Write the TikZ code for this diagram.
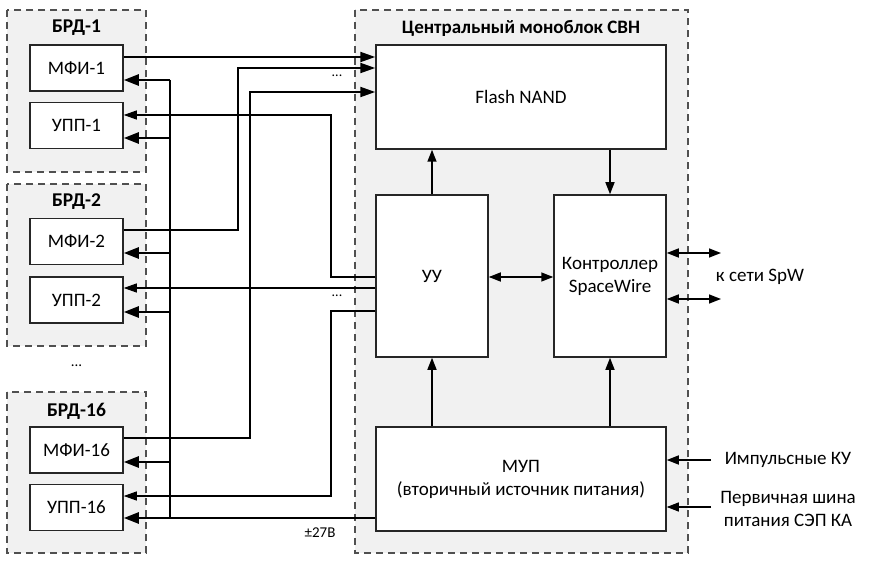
\documentclass[tikz,border=0pt]{standalone}
\usepackage{fontspec}
\setmainfont{Carlito}
\usetikzlibrary{arrows.meta}
\definecolor{grp}{HTML}{F1F1F1}
\definecolor{dsh}{HTML}{505050}
\tikzset{
  grpbox/.style={draw=dsh,fill=grp,line width=1.5pt,dash pattern=on 7pt off 5pt},
  blk/.style={draw=black!85,fill=white,line width=1.5pt,inner sep=0pt,align=center,font=\fontsize{19}{23}\selectfont},
  lbl/.style={inner sep=0pt,align=center,font=\fontsize{19}{23}\selectfont},
  grplbl/.style={inner sep=0pt,font=\bfseries\fontsize{19.5}{22}\selectfont},
  dat/.style={line width=2pt,-{Triangle[length=15pt,width=10pt]}},
  bus/.style={line width=2.6pt},
  busar/.style={line width=2.6pt,-{Triangle[length=15pt,width=11pt]}},
  ctl/.style={line width=1.1pt},
  ctlar/.style={line width=1.1pt,-{Triangle[length=13pt,width=9pt]}},
  inar/.style={line width=1.5pt,-{Triangle[length=12pt,width=9pt]}},
  biar/.style={line width=1.5pt,{Triangle[length=12pt,width=9pt]}-{Triangle[length=12pt,width=9pt]}},
}
\begin{document}
\begin{tikzpicture}[x=1pt,y=-1pt]
\useasboundingbox (0,0) rectangle (892,564);
% group frames
\draw[grpbox] (7,10) rectangle (146,172);
\draw[grpbox] (7,184) rectangle (146,346);
\draw[grpbox] (7,392) rectangle (146,553);
\draw[grpbox] (355,10) rectangle (688,553);
\node[grplbl] (g1) at (76.5,28) {БРД-1};
\node[grplbl] (g2) at (76.5,202) {БРД-2};
\node[grplbl] (g16) at (76.5,411) {БРД-16};
\node[grplbl,font=\bfseries\fontsize{19}{22}\selectfont] (gc) at (521,28) {Центральный моноблок СВН};
\node[lbl,font=\fontsize{15}{17}\selectfont] (dotsL) at (76.5,366) {...};
% left blocks
\node[blk,minimum width=93pt,minimum height=46pt] (mfi1) at (76.5,68) {МФИ-1};
\node[blk,minimum width=93pt,minimum height=46pt] (upp1) at (76.5,125.5) {УПП-1};
\node[blk,minimum width=93pt,minimum height=46pt] (mfi2) at (76.5,241.5) {МФИ-2};
\node[blk,minimum width=93pt,minimum height=46pt] (upp2) at (76.5,300) {УПП-2};
\node[blk,minimum width=93pt,minimum height=46pt] (mfi16) at (76.5,450) {МФИ-16};
\node[blk,minimum width=93pt,minimum height=46pt] (upp16) at (76.5,507.5) {УПП-16};
% central blocks
\node[blk,minimum width=290pt,minimum height=104pt] (flash) at (521,97) {Flash NAND};
\node[blk,minimum width=112pt,minimum height=162pt] (uu) at (432,276) {УУ};
\node[blk,minimum width=112pt,minimum height=162pt] (ctrl) at (610,276) {Контроллер\\SpaceWire};
\node[blk,minimum width=290pt,minimum height=104pt] (mup) at (521,479) {МУП\\(вторичный источник питания)};
% external labels
\node[lbl] (spw) at (760,277) {к сети SpW};
\node[lbl] (imp) at (788,460) {Импульсные КУ};
\node[lbl,font=\fontsize{19}{23}\selectfont] (pwr) at (788,508.5) {Первичная шина\\питания СЭП КА};
\node[lbl,font=\fontsize{14}{16}\selectfont] (dotsA) at (337,76) {...};
\node[lbl,font=\fontsize{14}{16}\selectfont] (dotsB) at (337,296) {...};
\node[lbl,font=\fontsize{15}{17}\selectfont] (v27) at (320,533) {±27В};
% coordinates
\coordinate (a2) at (238,68);
\coordinate (a16) at (250,92);
\coordinate (u1) at (331,115);
\coordinate (u16) at (331,496);
\coordinate (btop) at (170,80);
\coordinate (bbot) at (170,518);
\coordinate (spw1) at (721,253);
\coordinate (spw2) at (721,299);
\coordinate (impS) at (711,460);
\coordinate (pwrS) at (711,507);
% data lines MFI -> Flash
\draw[dat] (mfi1.east |- 0,57) -- (flash.west |- 0,57);
\draw[dat] (mfi2.east |- 0,230) -| (a2) -- (flash.west |- a2);
\draw[dat] (mfi16.east |- 0,438) -| (a16) -- (flash.west |- a16);
% control lines UU -> UPP
\draw[ctlar] (uu.west |- 0,277) -| (u1) -- (upp1.east |- u1);
\draw[ctlar] (uu.west |- 0,288) -- (upp2.east |- 0,288);
\draw[ctlar] (uu.west |- 0,311) -| (u16) -- (upp16.east |- u16);
% power bus
\draw[bus] (btop) -- (bbot);
\draw[busar] (mup.west |- bbot) -- (upp16.east |- bbot);
\draw[busar] (btop) -- (mfi1.east |- btop);
\draw[busar] (170,138) -- (upp1.east |- 0,138);
\draw[busar] (170,253) -- (mfi2.east |- 0,253);
\draw[busar] (170,312) -- (upp2.east |- 0,312);
\draw[busar] (170,462) -- (mfi16.east |- 0,462);
% internal
\draw[inar] (uu.north) -- (flash.south -| uu.north);
\draw[inar] (flash.south -| ctrl.north) -- (ctrl.north);
\draw[biar] (uu.east |- 0,277) -- (ctrl.west |- 0,277);
\draw[inar] (mup.north -| uu.south) -- (uu.south);
\draw[inar] (mup.north -| ctrl.south) -- (ctrl.south);
\draw[biar] (ctrl.east |- spw1) -- (spw1);
\draw[biar] (ctrl.east |- spw2) -- (spw2);
\draw[inar] (impS) -- (mup.east |- impS);
\draw[ctl,-{Triangle[length=12pt,width=9pt]}] (pwrS) -- (mup.east |- pwrS);
\end{tikzpicture}
\end{document}
